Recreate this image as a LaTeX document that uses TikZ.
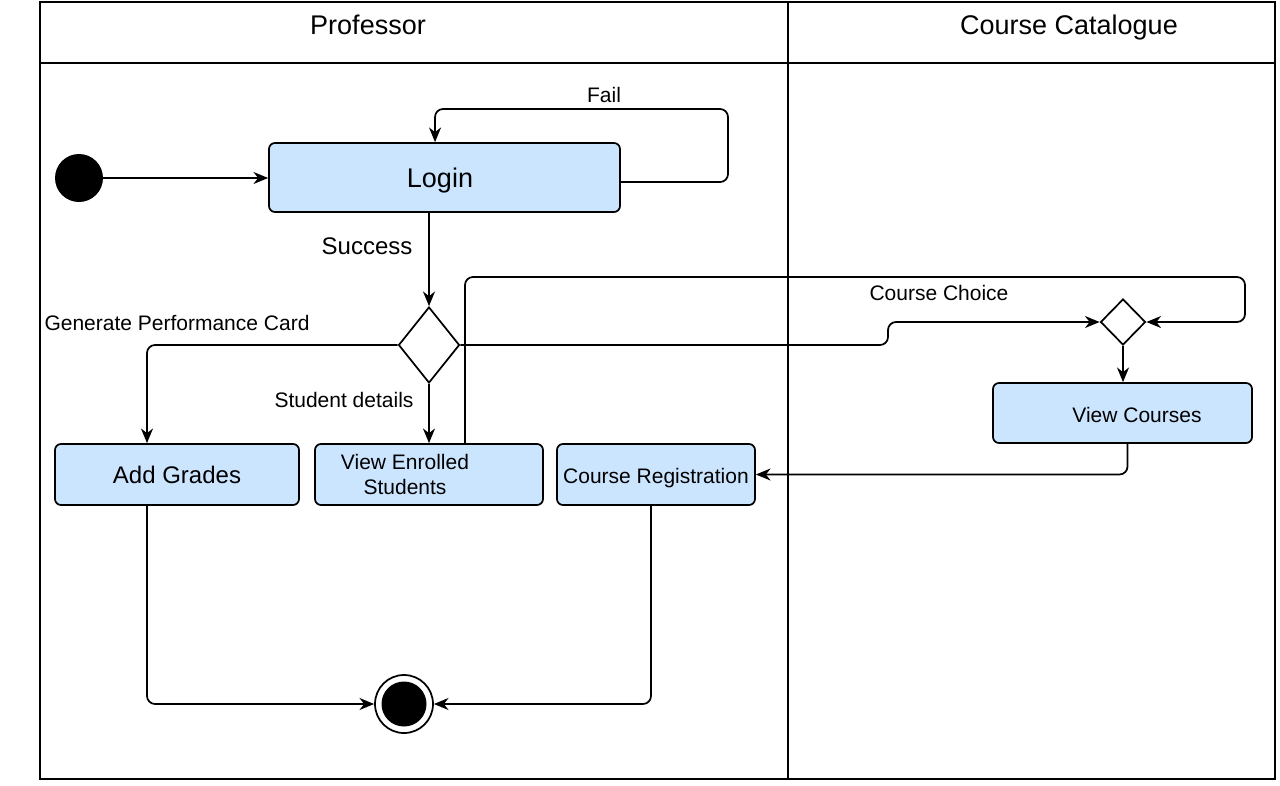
\documentclass[tikz,border=0pt]{standalone}
\usepackage{fontspec}
\setmainfont{Liberation Sans}
\usetikzlibrary{arrows.meta,shapes.geometric,calc}
\definecolor{boxfill}{HTML}{CCE5FF}
\begin{document}
\begin{tikzpicture}[x=0.75pt,y=-0.75pt,
  lane/.style={draw=black, line width=1pt},
  actbox/.style={draw=black, fill=boxfill, rounded corners=4.5pt, line width=1.3pt, inner sep=0pt, align=center},
  decis/.style={diamond, draw=black, fill=white, line width=1.3pt, inner sep=0pt},
  conn/.style={draw=black, line width=1.3pt, rounded corners=6pt, -{Stealth[length=11pt,width=9pt,inset=3.5pt]}},
  lbl/.style={font=\fontsize{15.75}{18}\selectfont, inner sep=0pt},
  head/.style={font=\fontsize{20.25}{24}\selectfont, inner sep=0pt},
  fmid/.style={font=\fontsize{15.75}{18.75}\selectfont},
  fbig/.style={font=\fontsize{18}{21}\selectfont},
]
\useasboundingbox (0,0) rectangle (1280,785);
\fill[white] (0,0) rectangle (1280,785);

% swimlanes
\draw[lane] (40,2) rectangle (1275,779);
\draw[lane] (40,63) -- (1275,63);
\draw[lane] (788,2) -- (788,779);
\node[head] (hprof) at (368,25) {Professor};
\node[head, text depth=0pt] (hcat) at (1069,25) {Course Catalogue};

% nodes
\node[circle, fill=black, minimum size=36pt, inner sep=0pt] (start) at (79,178) {};
\node[actbox, minimum width=263.25pt, minimum height=51.75pt, text depth=0pt, font=\fontsize{20.25}{24}\selectfont] (login) at (444.5,177.5) {Login\hspace*{6.75pt}};
\node[decis, minimum width=45.75pt, minimum height=57pt] (d1) at (429,345) {};
\node[actbox, minimum width=183pt, minimum height=45.75pt, fbig] (addg) at (177,474.5) {Add Grades};
\node[actbox, minimum width=171pt, minimum height=45.75pt, fmid] (venr) at (429,474.5) {View Enrolled\hspace*{36pt}\\Students\hspace*{36pt}};
\node[actbox, minimum width=148.5pt, minimum height=45.75pt, fmid, text height=14pt, text depth=0pt] (creg) at (656,474.5) {Course Registration};
\node[decis, minimum width=33.75pt, minimum height=34.5pt] (d2) at (1123,322) {};
\node[actbox, minimum width=194.25pt, minimum height=45pt, fmid, text height=14.5pt, text depth=0pt] (vc) at (1122.5,413) {\hspace*{21.75pt}View Courses};
\node[circle, draw=black, line width=1.3pt, fill=white, minimum size=43.5pt, inner sep=0pt] (endn) at (404,704) {};
\node[circle, fill=black, minimum size=33.75pt, inner sep=0pt] (endin) at (404,704) {};

\coordinate (failc) at (728,109);
\coordinate (jog) at (888,322);
\coordinate (loopc) at (1245,277);

% connectors
\draw[conn] (start.east) -- (start.east -| login.west);
\draw[conn] ([yshift=-3.4pt]login.east) -| (failc) -| ([xshift=-7.1pt]login.north);
\draw[conn] (login.south -| d1.north) -- (d1.north);
\draw[conn] (d1.west) -| ($(addg.north)+(-30,0)$);
\draw[conn] (d1.south) -- (venr.north);
\draw[conn] (d1.east) -| (jog) -- (d2.west);
\draw[conn] ($(venr.north)+(36,0)$) |- (loopc) |- (d2.east);
\draw[conn] (d2.south) -- (d2.south |- vc.north);
\draw[conn] ($(vc.south)+(5,0)$) |- (creg.east);
\draw[conn] ($(addg.south)+(-30,0)$) |- (endn.west);
\draw[conn] ($(creg.south)+(-5,0)$) |- (endn.east);

% labels
\node[lbl] (lfail) at (604,95) {Fail};
\node[lbl, font=\fontsize{18}{21}\selectfont] (lsucc) at (367,246) {Success};
\node[lbl] (lgen) at (177,323) {Generate Performance Card};
\node[lbl] (lstud) at (344,400) {Student details};
\node[lbl] (lchoice) at (939,293) {Course Choice};
\end{tikzpicture}
\end{document}
